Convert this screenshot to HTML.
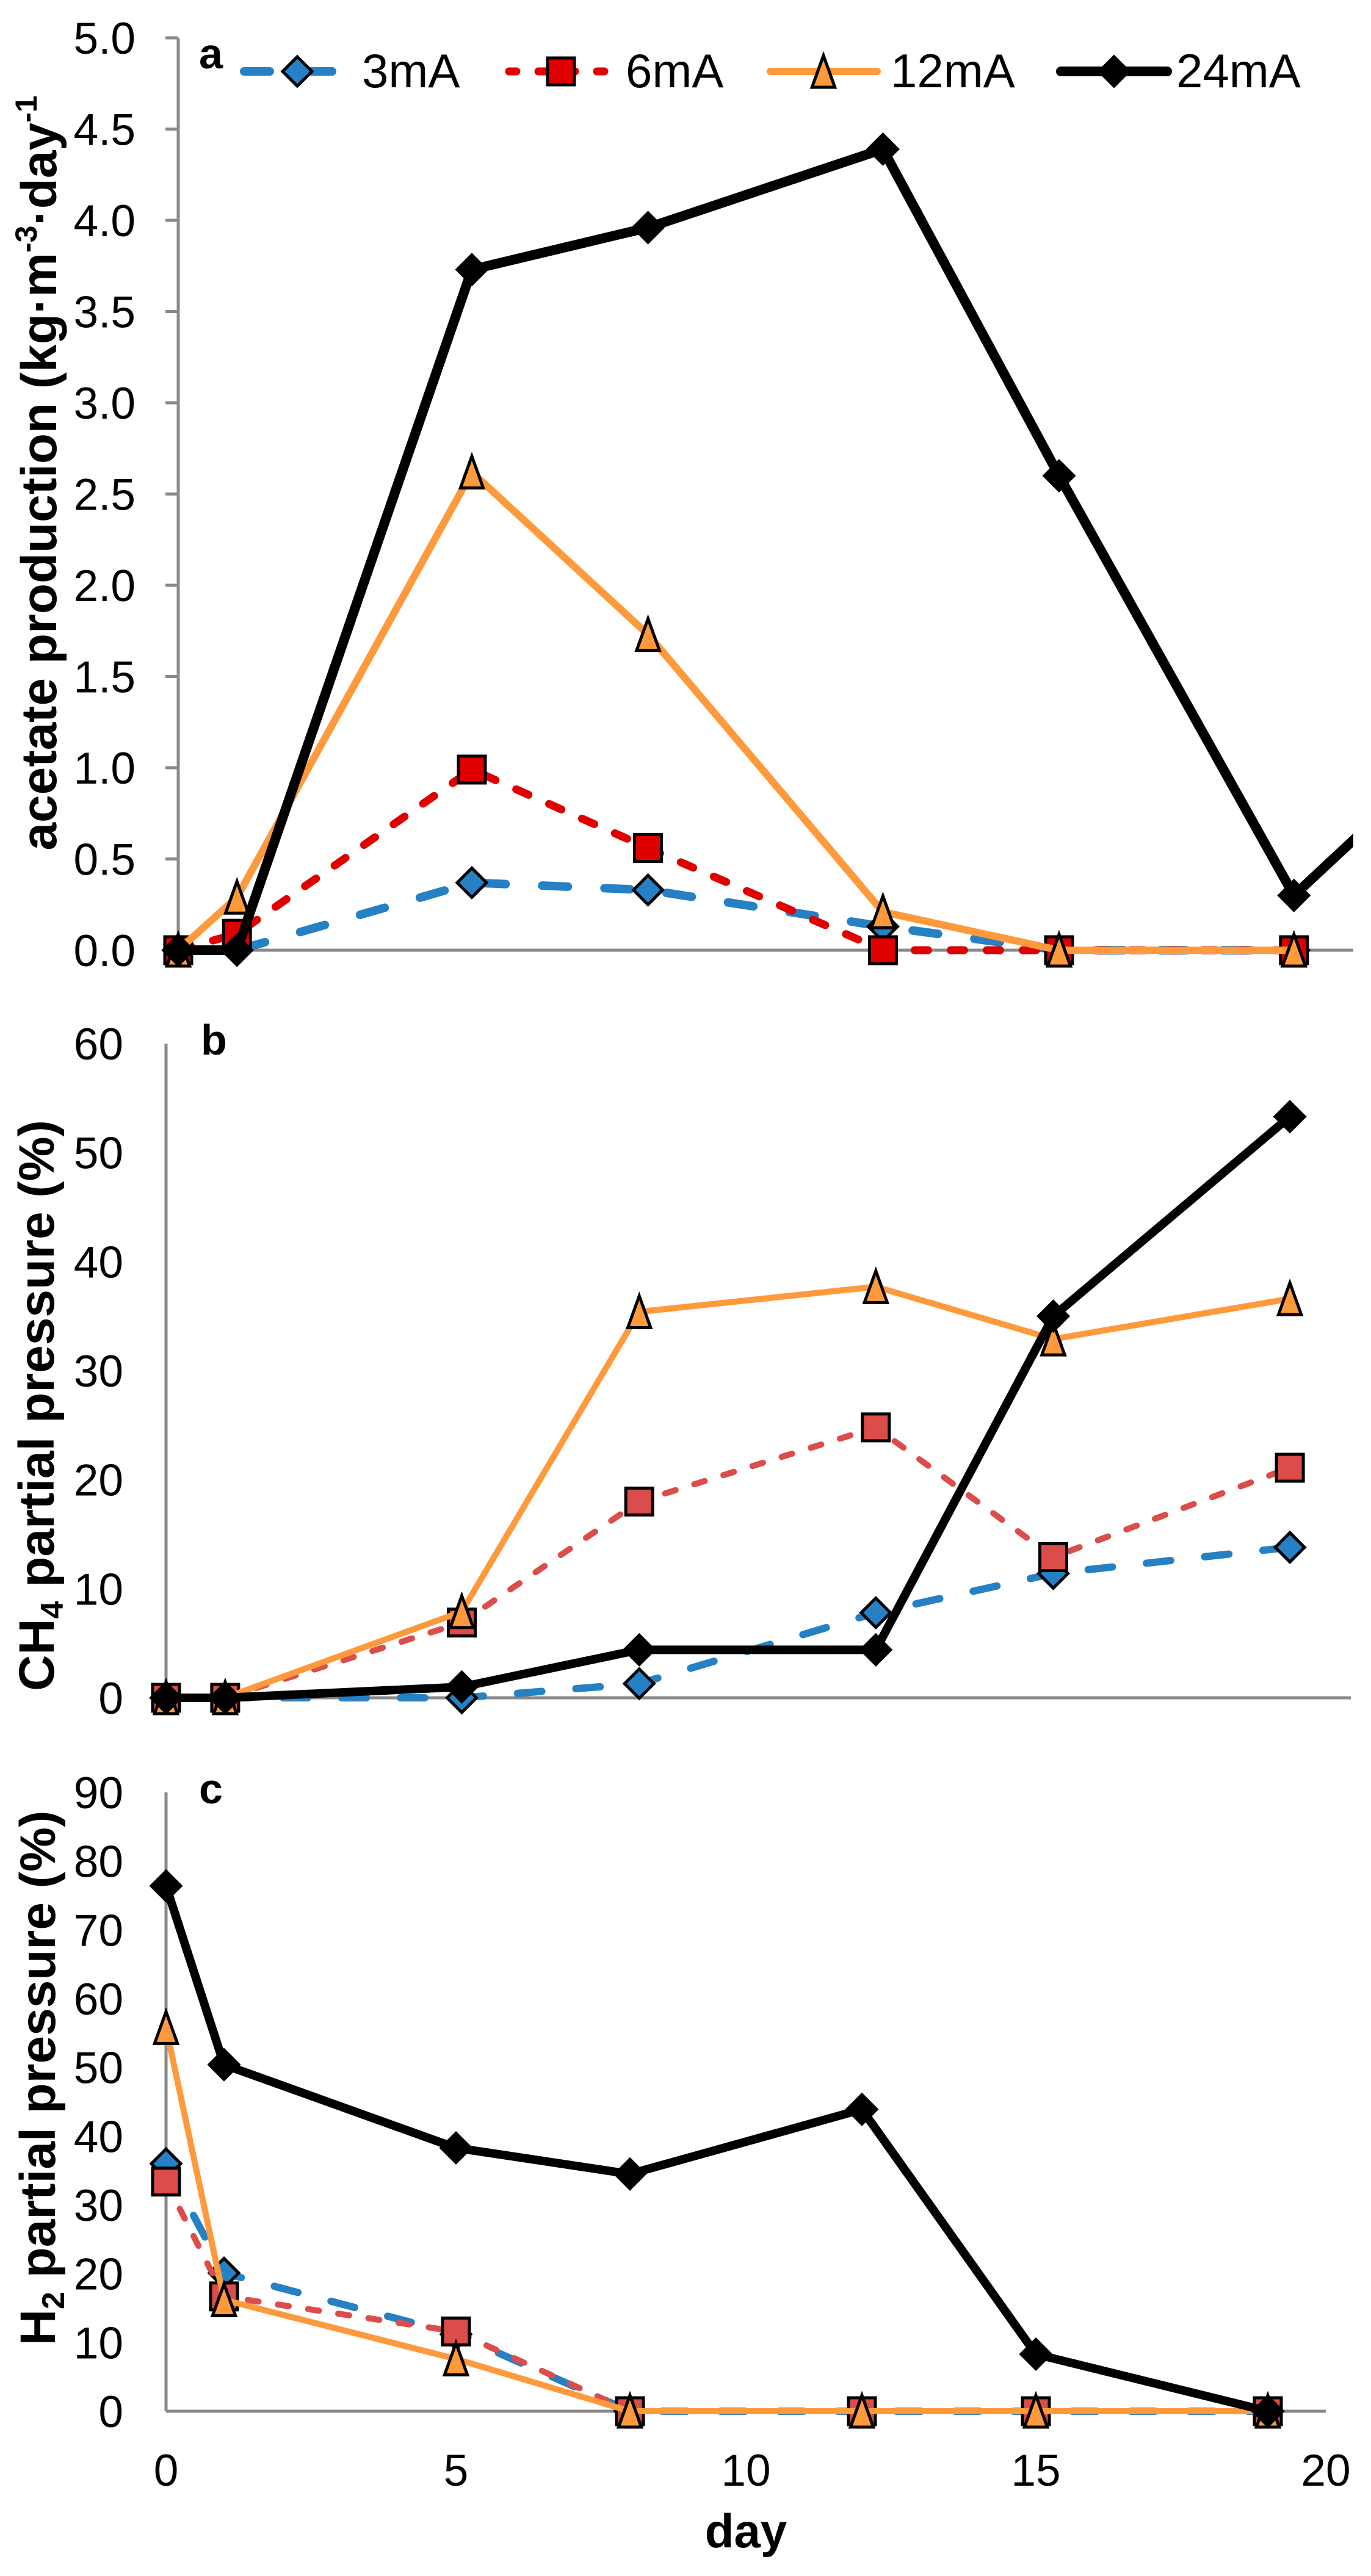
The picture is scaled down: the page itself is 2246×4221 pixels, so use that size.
<!DOCTYPE html>
<html><head><meta charset="utf-8"><style>
html,body{margin:0;padding:0;background:#fff;}
svg{display:block;}
text{font-family:"Liberation Sans",Arial,sans-serif;}
</style></head>
<body>
<svg id="chart" width="2246" height="4221" viewBox="0 0 2246 4221" xmlns="http://www.w3.org/2000/svg">
<defs>
<clipPath id="clipA"><rect x="0" y="0" width="2217" height="1620"/></clipPath>
</defs>
<g id="root"></g>
</svg>
<script>
// ---- data ----
const days = [0, 1, 5, 8, 12, 15, 19];
const seriesNames = ["3mA", "6mA", "12mA", "24mA"];
// panel a: acetate production
const acetate3 = [0, 0, 0.37, 0.33, 0.13, 0, 0];
const acetate6 = [0, 0.09, 0.99, 0.56, 0, 0, 0];
const acetate12 = [0, 0.29, 2.62, 1.73, 0.21, 0, 0];
const acetate24 = [0, 0, 3.73, 3.96, 4.39, 2.6, 0.3];
const acetate24ExtraDay = [21];
const acetate24ExtraVal = [0.9];
// panel b: CH4
const ch4_3 = [0, 0, 0, 1.3, 7.8, 11.4, 13.8];
const ch4_6 = [0, 0, 6.9, 18.0, 24.8, 12.9, 21.1];
const ch4_12 = [0, 0, 7.9, 35.4, 37.7, 32.9, 36.6];
const ch4_24 = [0, 0, 1.0, 4.4, 4.4, 35.0, 53.3];
// panel c: H2
const h2_3 = [36, 20.1, 11.2, 0, 0, 0, 0];
const h2_6 = [33.4, 16.7, 11.6, 0, 0, 0, 0];
const h2_12 = [55.8, 16.2, 7.6, 0, 0, 0, 0];
const h2_24 = [76.4, 50.4, 38.3, 34.5, 43.9, 8.3, 0];
// ticks
const ticksA = ["0.0","0.5","1.0","1.5","2.0","2.5","3.0","3.5","4.0","4.5","5.0"];
const ticksB = ["0","10","20","30","40","50","60"];
const ticksC = ["0","10","20","30","40","50","60","70","80","90"];
const ticksX = ["0","5","10","15","20"];

const NS = "http://www.w3.org/2000/svg";
const root = document.getElementById("root");
function el(tag, attrs, parent, txt){
  const e = document.createElementNS(NS, tag);
  for (const k in attrs) e.setAttribute(k, attrs[k]);
  if (txt !== undefined) e.textContent = txt;
  (parent || root).appendChild(e);
  return e;
}
const AX = "#898989";
const styles = [
  {stroke:"#2581c4", w:14, dash:"42 60", cap:"round", marker:"diamond", fill:"#2581c4"},
  {stroke:"#e00000", w:13, dash:"22 37", cap:"round", marker:"square", fill:"#e00000"},
  {stroke:"#ff9a3c", w:12, dash:null, cap:"butt", marker:"triangle", fill:"#ff9a3c"},
  {stroke:"#000000", w:16, dash:null, cap:"butt", marker:"diamond", fill:"#000000"}
];
const stylesBC = [
  {stroke:"#2581c4", w:12, dash:"40 56", cap:"round", marker:"diamond", fill:"#2581c4"},
  {stroke:"#db4d4a", w:10, dash:"18 32", cap:"round", marker:"square", fill:"#db4d4a"},
  {stroke:"#ff9a3c", w:10, dash:null, cap:"butt", marker:"triangle", fill:"#ff9a3c"},
  {stroke:"#000000", w:14, dash:null, cap:"butt", marker:"diamond", fill:"#000000"}
];

function drawMarker(g, kind, cx, cy, fill, size){
  const s = size/2;
  let m;
  if (kind === "diamond") m = el("polygon", {points:`${cx},${cy-s} ${cx+s},${cy} ${cx},${cy+s} ${cx-s},${cy}`, fill:fill, stroke:"#000", "stroke-width":5}, g);
  else if (kind === "square") m = el("rect", {x:cx-s+2, y:cy-s+2, width:size-4, height:size-4, fill:fill, stroke:"#000", "stroke-width":5}, g);
  else m = el("polygon", {points:`${cx},${cy-s} ${cx+s*0.72},${cy+s} ${cx-s*0.72},${cy+s}`, fill:fill, stroke:"#000", "stroke-width":5}, g);
  return m;
}

function panel(cfg){
  const g = el("g", {}, root);
  
  
  const xs = d => cfg.x0 + cfg.dx * d;
  const ys = v => cfg.y0 - (v - cfg.vmin) / (cfg.vmax - cfg.vmin) * (cfg.y0 - cfg.yTop);
  const yAxis = el("line", {x1:cfg.axisX, y1:cfg.yTop, x2:cfg.axisX, y2:cfg.y0, stroke:AX, "stroke-width":5}, g);
  
  
  const xAxis = el("line", {x1:cfg.axisX, y1:cfg.y0, x2:cfg.xEnd, y2:cfg.y0, stroke:AX, "stroke-width":5}, g);
  
  
  cfg.ticks.forEach((t) => {
    const v = parseFloat(t);
    const y = ys(v);
    if (cfg.tickMarks) el("line", {x1:cfg.axisX-21, y1:y, x2:cfg.axisX, y2:y, stroke:AX, "stroke-width":5}, g);
    const tx = el("text", {x:cfg.labelRight, y:y+26, "text-anchor":"end", "font-size":73, fill:"#000"}, g, t);
    
    
  });
  const pl = el("text", {x:cfg.letterX, y:cfg.letterY, "font-size":70, "font-weight":"bold", fill:"#000"}, g, cfg.letter);
  
  
  const tt = el("text", {transform:`translate(${cfg.titleX},${cfg.titleMid}) rotate(-90)`, "text-anchor":"middle", "font-size":82, "font-weight":"bold", fill:"#000"}, g);
  
  
  cfg.title(tt);
  const sg = el("g", cfg.clip ? {"clip-path":"url(#clipA)"} : {}, g);
  cfg.series.forEach((vals, i) => {
    const st = cfg.styles[i];
    let dList = days.slice(), vList = vals.slice();
    if (cfg.extra && i === 3) { dList = dList.concat(cfg.extra[0]); vList = vList.concat(cfg.extra[1]); }
    const pts = dList.map((d, k) => `${xs(d)},${ys(vList[k])}`).join(" ");
    const a = {points:pts, fill:"none", stroke:st.stroke, "stroke-width":st.w, "stroke-linecap":st.cap, "stroke-linejoin":"round"};
    if (st.dash) a["stroke-dasharray"] = st.dash;
    const pl2 = el("polyline", a, sg);
    
    
    days.forEach((d, k) => {
      const m = drawMarker(sg, st.marker, xs(d), ys(vals[k]), st.fill, st.marker === "triangle" ? 52 : 48);
      
      
    });
  });
  return {xs, ys};
}

panel({name:"panel-a-acetate", x0:292, dx:96.2, axisX:292, xEnd:2217, y0:1557, yTop:62, vmin:0, vmax:5,
  ticks:ticksA, tickMarks:true, labelRight:222, letter:"a", letterX:326, letterY:112,
  titleX:92, titleMid:775, clip:true, extra:[acetate24ExtraDay, acetate24ExtraVal],
  series:[acetate3, acetate6, acetate12, acetate24], styles:styles,
  title:(t)=>{
    el("tspan", {}, t, "acetate production (kg·m");
    el("tspan", {"font-size":50, dy:-32}, t, "-3");
    el("tspan", {dy:32}, t, "·day");
    el("tspan", {"font-size":50, dy:-32}, t, "-1");
  }});

panel({name:"panel-b-ch4", x0:272, dx:96.9, axisX:272, xEnd:2213, y0:2782, yTop:1710, vmin:0, vmax:60,
  ticks:ticksB, tickMarks:false, labelRight:202, letter:"b", letterX:329, letterY:1728,
  titleX:88, titleMid:2303,
  series:[ch4_3, ch4_6, ch4_12, ch4_24], styles:stylesBC,
  title:(t)=>{
    el("tspan", {}, t, "CH");
    el("tspan", {"font-size":52, dy:15}, t, "4");
    el("tspan", {dy:-15}, t, " partial pressure (%)");
  }});

const pc = panel({name:"panel-c-h2", x0:272, dx:95, axisX:272, xEnd:2172, y0:3951, yTop:2937, vmin:0, vmax:90,
  ticks:ticksC, tickMarks:false, labelRight:202, letter:"c", letterX:326, letterY:2955,
  titleX:90, titleMid:3405,
  series:[h2_3, h2_6, h2_12, h2_24], styles:stylesBC,
  title:(t)=>{
    el("tspan", {}, t, "H");
    el("tspan", {"font-size":52, dy:15}, t, "2");
    el("tspan", {dy:-15}, t, " partial pressure (%)");
  }});
ticksX.forEach(t => {
  const tx = el("text", {x:pc.xs(parseFloat(t)), y:4073, "text-anchor":"middle", "font-size":73, fill:"#000"}, root, t);
  
  
});
const xt = el("text", {x:1222, y:4174, "text-anchor":"middle", "font-size":78, "font-weight":"bold", fill:"#000"}, root, "day");



const lg = el("g", {}, root);


const legX = [[400, 553, 487, 593], [834, 1010, 919, 1025], [1262, 1437, 1349, 1459], [1738, 1912, 1825, 1927]];
seriesNames.forEach((n, i) => {
  const st = styles[i];
  const e = el("g", {}, lg);
  
  
  const a = {x1:legX[i][0], y1:117, x2:legX[i][1], y2:117, stroke:st.stroke, "stroke-width":st.w, "stroke-linecap":"round"};
  if (st.dash) a["stroke-dasharray"] = i === 0 ? "42 60" : "12 36";
  el("line", a, e);
  drawMarker(e, st.marker, legX[i][2], 117, st.fill, st.marker === "triangle" ? 52 : 48);
  el("text", {x:legX[i][3], y:143, "font-size":78, fill:"#000"}, e, n);
});
</script>
</body></html>
